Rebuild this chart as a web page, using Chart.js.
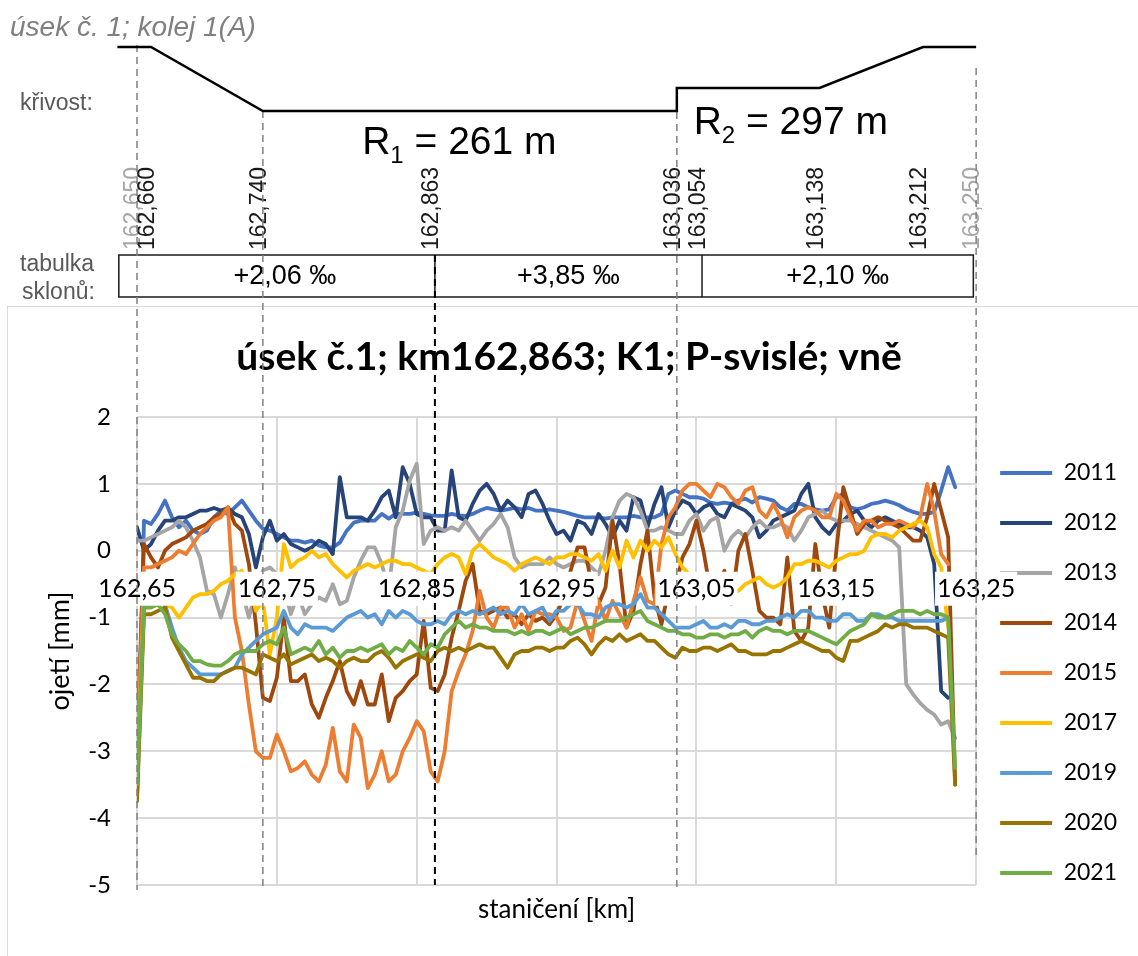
<!DOCTYPE html>
<html lang="cs">
<head>
<meta charset="utf-8">
<title>úsek č.1; km162,863; K1; P-svislé; vně</title>
<script src="https://cdn.jsdelivr.net/npm/chart.js@4.4.1/dist/chart.umd.min.js"></script>
<style>
  html, body { margin: 0; padding: 0; background: #fff; }
  #stage { position: relative; width: 1138px; height: 956px; overflow: hidden; background: #fff; }
  #frame { position: absolute; left: 7px; top: 306px; width: 1200px; height: 700px;
           border-left: 1.5px solid #d9d9d9; border-top: 1.5px solid #d9d9d9; }
  #stage canvas { position: absolute; left: 0; top: 0; }
</style>
</head>
<body>
<div id="stage">
  <div id="frame"></div>
  <canvas id="wearChart" width="1138" height="956"></canvas>
  <canvas id="profileChart" width="1138" height="956"></canvas>
</div>
<script>
(function() {
    'use strict';

    // measuring stations, one every 5 m from km 162,650
    const stations = Array.from({ length: 118 }, (_, i) => +(162.65 + i * 0.005).toFixed(3));

    const years = ['2011', '2012', '2013', '2014', '2015', '2017', '2019', '2020', '2021'];
    const yearColors = ['#4472C4', '#264478', '#A5A5A5', '#9E480E', '#ED7D31', '#FFC000', '#5B9BD5', '#997300', '#70AD47'];

    // ojetí [mm]
    const w2011 = [
        -3.7, 0.45, 0.4, 0.55, 0.75, 0.5, 0.35, 0.45, 0.3, 0.25,
        0.3, 0.5, 0.6, 0.55, 0.65, 0.75, 0.6, 0.45, 0.33, 0.3,
        0.25, 0.2, 0.15, 0.15, 0.12, 0.15, 0.08, 0.05, 0.05, 0.12,
        0.3, 0.42, 0.45, 0.45, 0.45, 0.55, 0.48, 0.55, 0.55, 0.55,
        0.57, 0.55, 0.53, 0.52, 0.52, 0.55, 0.53, 0.52, 0.55, 0.6,
        0.64, 0.62, 0.6, 0.62, 0.64, 0.62, 0.64, 0.6, 0.6, 0.62,
        0.6, 0.58, 0.55, 0.52, 0.5, 0.5, 0.5, 0.48, 0.5, 0.5,
        0.5, 0.52, 0.5, 0.5, 0.5, 0.55, 0.85, 0.9, 0.85, 0.8,
        0.8, 0.78, 0.72, 0.7, 0.72, 0.7, 0.75, 0.78, 0.72, 0.8,
        0.78, 0.75, 0.65, 0.6, 0.7, 0.7, 0.65, 0.62, 0.6, 0.62,
        0.8, 0.85, 0.65, 0.62, 0.65, 0.7, 0.72, 0.75, 0.72, 0.68,
        0.62, 0.58, 0.55, 0.55, 0.58, 0.9, 1.25, 0.95
    ];
    const w2012 = [
        0.35, 0.0, 0.1, 0.3, 0.45, 0.45, 0.5, 0.5, 0.55, 0.6,
        0.6, 0.64, 0.6, 0.64, 0.55, 0.5, 0.25, -0.25, 0.2, 0.45,
        0.15, 0.25, 0.1, 0.05, 0.0, 0.05, 0.15, 0.1, -0.05, 1.1,
        0.5, 0.5, 0.5, 0.45, 0.6, 0.8, 0.9, 0.5, 1.25, 1.0,
        0.55, 0.5, 0.5, 0.3, 0.3, 1.2, 0.5, 0.45, 0.7, 0.9,
        1.0, 0.85, 0.6, 0.75, 0.65, 0.5, 0.85, 0.9, 0.7, 0.45,
        0.25, 0.3, 0.15, 0.45, 0.4, 0.25, 0.55, 0.4, 0.2, 0.45,
        0.3, 0.8, 0.75, 0.35, 0.7, 0.95, 0.35, 0.6, 0.75, 0.7,
        0.55, 0.65, 0.7, 0.55, 0.5, 0.7, 0.65, 0.6, 0.5, 0.2,
        0.3, 0.45, 0.5, 0.55, 0.6, 0.85, 1.0, 0.5, 0.35, 0.25,
        0.4, 0.45, 0.55, 0.6, 0.45, 0.35, 0.45, 0.5, 0.45, 0.4,
        0.35, 0.35, 0.3, 0.2, -0.2, -2.1, -2.2, null
    ];
    const w2013 = [
        0.15, 0.15, 0.2, 0.25, 0.3, 0.35, 0.45, 0.35, 0.15, -0.1,
        -0.6, -0.65, -1.0, -0.65, -0.25, -0.6, -1.0, -0.6, -0.3, -0.25,
        -0.35, -0.55, -0.95, -0.65, -0.95, -0.8, -0.7, -0.75, -0.5, -0.8,
        -0.75, -0.4, -0.15, 0.05, 0.05, -0.2, -0.6, 0.35, 0.6, 1.05,
        1.3, 0.1, 0.3, 0.35, 0.3, 0.35, 0.3, 0.45, 0.3, 0.15,
        0.3, 0.4, 0.55, 0.35, -0.1, -0.25, -0.2, -0.2, -0.2, -0.1,
        -0.2, -0.25, -0.2, -0.15, -0.15, -0.25, -0.35, 0.0, 0.5, 0.75,
        0.85, 0.8, 0.6, 0.3, 0.3, 0.35, 0.3, 0.25, 0.25, 0.45,
        0.55, 0.3, 0.45, 0.5, 0.0, 0.2, 0.3, 0.2, 0.35, 0.45,
        0.35, 0.35, 0.4, 0.35, 0.15, 0.3, 0.5, 0.55, 0.6, 0.5,
        0.45, 0.45, 0.45, 0.4, 0.35, 0.3, 0.25, 0.2, 0.15, 0.05,
        -2.0, -2.15, -2.28, -2.38, -2.45, -2.6, -2.55, -2.8
    ];
    const w2014 = [
        -3.0, 0.1, -0.1, -0.25, 0.0, 0.1, 0.15, 0.2, 0.3, 0.35,
        0.4, 0.5, 0.55, 0.65, 0.4, 0.3, -0.2, -1.1, -2.2, -2.25,
        -1.9, -1.0, -1.95, -1.95, -1.85, -2.3, -2.5, -2.2, -1.95, -1.65,
        -2.1, -2.3, -1.95, -2.3, -2.3, -1.85, -2.55, -2.2, -2.1, -1.95,
        -1.85, -1.05, -2.05, -2.1, -1.85, -1.3, -0.9, -0.45, -0.2, -0.9,
        -0.95, -0.9, -0.85, -1.0, -0.95, -1.1, -0.95, -1.05, -1.0, -1.1,
        -0.95, -0.7, -0.3, 0.05, 0.05, -0.5, -0.8, -0.55, 0.45, -0.2,
        -1.15, -0.9, -0.2, 0.3, -0.7, -1.1, -0.6, -0.55, -0.1, 0.1,
        0.45, 0.0, -0.6, -0.5, -0.3, -0.8, 0.0, 0.25, -0.3, -0.9,
        -1.0, -1.0, -1.1, -0.1, -1.2, -1.35, -1.15, 0.1, -0.65, -1.15,
        0.0, 0.95, 0.6, 0.25, 0.4, 0.45, 0.5, 0.45, 0.4, 0.35,
        0.25, 0.15, 0.15, 0.5, 1.0, 0.6, 0.2, -3.5
    ];
    const w2015 = [
        -3.1, -0.25, -0.25, -0.2, -0.15, -0.1, 0.0, -0.05, 0.1, 0.25,
        0.35, 0.45, 0.5, 0.65, -1.0, -1.5, -2.3, -3.0, -3.1, -3.1,
        -2.75, -3.0, -3.3, -3.25, -3.15, -3.35, -3.45, -3.2, -2.65, -3.3,
        -3.45, -2.6, -2.8, -3.55, -3.35, -3.0, -3.45, -3.35, -3.0, -2.8,
        -2.55, -2.7, -3.3, -3.45, -3.0, -2.1, -1.8, -1.55, -1.2, -0.6,
        -1.0, -1.15, -0.85, -0.85, -1.15, -0.95, -1.2, -0.9, -0.95, -0.95,
        -1.0, -1.2, -1.15, -0.75, -1.05, -1.35, -0.75, -1.05, -0.75, -0.95,
        -1.15, -0.75, -0.4, -0.75, -0.8, 0.1, 0.5, 0.65, 0.9, 1.0,
        1.0, 0.9, 0.8, 1.0, 0.95, 0.8, 0.7, 0.9, 0.95, 0.6,
        0.5, 0.7, 0.5, 0.2, 0.5, 0.6, 0.65, 0.6, 0.5, 0.5,
        0.85, 0.75, 0.5, 0.3, 0.45, 0.45, 0.35, 0.4, 0.4, 0.45,
        0.4, 0.35, 0.5, 1.0, 0.6, -0.05, -0.2, null
    ];
    const w2017 = [
        -3.4, -0.7, -0.7, -0.75, -0.8, -0.85, -1.0, -0.85, -0.7, -0.65,
        -0.65, -0.6, -0.5, -0.45, -0.35, -0.3, -0.5, -0.9, -0.75, -1.55,
        -1.0, 0.1, -0.25, -0.15, -0.1, 0.0, -0.1, -0.05, -0.2, -0.3,
        -0.4, -0.3, -0.25, -0.2, -0.25, -0.2, -0.15, -0.15, -0.2, -0.2,
        -0.25, -0.3, -0.35, -0.2, -0.1, -0.05, -0.1, -0.35, 0.0, 0.1,
        0.0, -0.1, -0.15, -0.2, -0.3, -0.2, -0.15, -0.1, -0.15, -0.2,
        -0.1, -0.1, -0.05, -0.05, -0.1, -0.15, -0.05, -0.3, 0.0, -0.25,
        0.15, -0.1, 0.15, 0.0, 0.15, 0.05, 0.2, -0.05, -0.25, -0.35,
        -0.45, -0.5, -0.55, -0.6, -0.55, -0.6, -0.6, -0.5, -0.45, -0.4,
        -0.5, -0.55, -0.5, -0.4, -0.2, -0.2, -0.15, -0.15, -0.2, -0.25,
        -0.15, -0.1, -0.05, -0.05, 0.0, 0.2, 0.25, 0.25, 0.2, 0.3,
        0.35, 0.4, 0.45, 0.35, -0.05, -0.25, -1.15, null
    ];
    const w2019 = [
        -3.7, -0.8, -0.8, -0.75, -0.8, -1.15, -1.45, -1.65, -1.75, -1.85,
        -1.85, -1.85, -1.85, -1.8, -1.75, -1.55, -1.45, -1.35, -1.25, -1.2,
        -1.15, -0.9, -1.15, -1.25, -1.1, -1.15, -1.15, -1.15, -1.2, -1.1,
        -1.0, -0.95, -0.9, -1.0, -0.95, -1.1, -0.9, -1.0, -0.9, -0.95,
        -1.05, -1.1, -1.1, -1.05, -1.1, -0.95, -0.9, -0.95, -0.9, -0.95,
        -0.9, -0.85, -0.95, -0.9, -0.95, -0.8, -0.95, -0.9, -0.85, -1.05,
        -0.9, -0.9, -0.8, -0.8, -0.95, -0.95, -1.0, -0.85, -0.8, -0.8,
        -0.85, -0.8, -0.65, -0.85, -0.85, -0.95, -1.05, -1.15, -1.15, -1.15,
        -1.1, -1.05, -1.15, -1.15, -1.1, -1.15, -1.05, -1.05, -1.1, -1.1,
        -1.05, -1.05, -1.0, -0.95, -1.0, -0.9, -0.9, -1.0, -1.0, -1.05,
        -1.05, -0.95, -0.95, -1.05, -1.05, -0.95, -0.95, -1.0, -1.0, -1.05,
        -1.05, -1.05, -1.05, -1.05, -1.05, -1.05, -1.0, null
    ];
    const w2020 = [
        -3.75, -0.95, -0.95, -0.9, -0.85, -1.3, -1.5, -1.7, -1.9, -1.9,
        -1.95, -1.95, -1.85, -1.8, -1.75, -1.75, -1.8, -1.85, -1.55, -1.6,
        -1.65, -1.55, -1.7, -1.65, -1.6, -1.55, -1.65, -1.6, -1.65, -1.75,
        -1.65, -1.6, -1.65, -1.65, -1.55, -1.5, -1.6, -1.75, -1.65, -1.6,
        -1.55, -1.6, -1.65, -1.5, -1.45, -1.5, -1.45, -1.5, -1.45, -1.4,
        -1.45, -1.45, -1.6, -1.75, -1.55, -1.5, -1.5, -1.45, -1.45, -1.5,
        -1.45, -1.45, -1.35, -1.3, -1.4, -1.55, -1.4, -1.3, -1.35, -1.25,
        -1.35, -1.3, -1.25, -1.35, -1.35, -1.45, -1.55, -1.6, -1.45, -1.5,
        -1.5, -1.45, -1.45, -1.5, -1.45, -1.4, -1.5, -1.5, -1.55, -1.55,
        -1.55, -1.5, -1.5, -1.45, -1.4, -1.35, -1.4, -1.45, -1.5, -1.5,
        -1.6, -1.65, -1.35, -1.35, -1.3, -1.25, -1.2, -1.1, -1.15, -1.1,
        -1.1, -1.15, -1.15, -1.15, -1.2, -1.25, -1.3, -3.5
    ];
    const w2021 = [
        -3.5, -0.85, -0.85, -0.8, -0.95, -1.25, -1.4, -1.5, -1.65, -1.65,
        -1.7, -1.72, -1.72, -1.65, -1.55, -1.5, -1.5, -1.5, -1.4, -1.35,
        -1.4, -1.15, -1.55, -1.5, -1.45, -1.5, -1.35, -1.55, -1.45, -1.6,
        -1.5, -1.5, -1.45, -1.5, -1.45, -1.4, -1.55, -1.45, -1.5, -1.35,
        -1.45, -1.55, -1.4, -1.45, -1.25, -1.15, -1.05, -1.15, -1.1, -1.15,
        -1.15, -1.2, -1.2, -1.2, -1.25, -1.2, -1.25, -1.2, -1.2, -1.25,
        -1.2, -1.15, -1.25, -1.2, -1.15, -1.15, -1.1, -1.05, -1.05, -1.05,
        -1.0, -0.95, -0.9, -1.05, -1.1, -1.15, -1.2, -1.2, -1.25, -1.25,
        -1.3, -1.3, -1.25, -1.25, -1.3, -1.25, -1.25, -1.2, -1.3, -1.2,
        -1.15, -1.2, -1.2, -1.25, -1.2, -1.2, -1.2, -1.25, -1.3, -1.35,
        -1.4, -1.3, -1.2, -1.15, -1.1, -0.95, -1.0, -1.0, -0.95, -0.9,
        -0.9, -0.9, -0.95, -0.9, -0.95, -0.95, -1.0, -3.25
    ];
    const wear = [w2011, w2012, w2013, w2014, w2015, w2017, w2019, w2020, w2021];

    const xTicks = [162.65, 162.75, 162.85, 162.95, 163.05, 163.15, 163.25];
    const KM_MIN = 162.65, KM_MAX = 163.25;

    // track profile above the chart
    const stationKm = [162.650, 162.660, 162.740, 162.863, 163.036, 163.054, 163.138, 163.212, 163.250];
    const stationFaded = [true, false, false, false, false, false, false, false, true];
    const curveKm = [162.636, 162.660, 162.740, 163.036, 163.036, 163.138, 163.212, 163.250];
    const curveLevel = [0, 0, 1, 1, 0.64, 0.64, 0, 0];   // 0 = přímá, 1 = R1 (schematic)
    const radiusIndex = ['1', '2'];
    const radiusText = ['261 m', '297 m'];
    const slopeKm = [162.637, 162.863, 163.054, 163.248];
    const slopeText = ['+2,06 \u2030', '+3,85 \u2030', '+2,10 \u2030'];
    const guideKm = [162.650, 162.740, 162.863, 163.036, 163.250];

    const CALIBRI = 'Lato, "Open Sans", sans-serif';
    const ARIAL = '"Liberation Sans", Arial, sans-serif';
    const W = 1138, H = 956;
    const LEGEND_NUDGE = { x: -3, y: 38 };

    const fmtKm = v => v.toFixed(2).replace('.', ',');

    const legendNudge = {
        id: 'legendNudge',
        afterLayout(chart) {
            const lg = chart.legend;
            lg.left += LEGEND_NUDGE.x;
            lg.right += LEGEND_NUDGE.x;
            lg.top += LEGEND_NUDGE.y;
            lg.bottom += LEGEND_NUDGE.y;
        }
    };

    const datasets = years.map((year, i) => ({
        label: year,
        data: stations.map((km, j) => ({ x: km, y: wear[i][j] })),
        xAxisID: 'x',
        yAxisID: 'y',
        borderColor: yearColors[i],
        backgroundColor: yearColors[i],
        borderWidth: 3.8,
        pointRadius: 0,
        borderJoinStyle: 'round',
        borderCapStyle: 'round',
        order: years.length - i
    }));

    const wearChart = new Chart(document.getElementById('wearChart'), {
        type: 'line',
        data: { datasets },
        options: {
            responsive: false,
            animation: false,
            events: [],
            layout: { padding: { top: 314, left: 8, right: 8, bottom: 0 } },
            plugins: {
                title: {
                    display: true,
                    text: 'úsek č.1; km162,863; K1; P-svislé; vně',
                    color: '#000',
                    font: { family: CALIBRI, size: 39, weight: 'bold' },
                    padding: { top: 20, bottom: 36.2 }
                },
                legend: {
                    position: 'right',
                    reverse: true,
                    labels: {
                        color: '#000',
                        font: { family: CALIBRI, size: 23 },
                        usePointStyle: true,
                        pointStyle: 'line',
                        pointStyleWidth: 52,
                        padding: 27
                    }
                },
                tooltip: { enabled: false }
            },
            scales: {
                x: {
                    type: 'linear',
                    position: { y: 0 },
                    min: KM_MIN,
                    max: KM_MAX,
                    afterBuildTicks: scale => { scale.ticks = xTicks.map(v => ({ value: v })); },
                    grid: { color: '#d9d9d9', lineWidth: 2, drawTicks: false },
                    border: { display: false },
                    ticks: {
                        color: '#000',
                        font: { family: CALIBRI, size: 25 },
                        padding: 23,
                        autoSkip: false,
                        maxRotation: 0,
                        callback: v => fmtKm(v),
                        showLabelBackdrop: true,
                        backdropColor: '#fff',
                        backdropPadding: { x: 2, y: 2 },
                        z: 1
                    }
                },
                xTitle: {
                    type: 'linear',
                    axis: 'x',
                    position: 'bottom',
                    min: KM_MIN,
                    max: KM_MAX,
                    grid: { display: false, drawTicks: false },
                    border: { display: false },
                    ticks: { display: false },
                    title: {
                        display: true,
                        text: 'staničení [km]',
                        color: '#000',
                        font: { family: CALIBRI, size: 26 },
                        padding: { top: 0, bottom: 31 }
                    },
                    afterFit: scale => { scale.height = 71; }
                },
                y: {
                    min: -5,
                    max: 2,
                    grid: { color: '#d9d9d9', lineWidth: 2, drawTicks: false },
                    border: { display: false },
                    ticks: { stepSize: 1, color: '#000', font: { family: CALIBRI, size: 24 }, padding: 26 },
                    title: {
                        display: true,
                        text: 'ojetí [mm]',
                        color: '#000',
                        font: { family: CALIBRI, size: 27 },
                        padding: { top: 36, bottom: 0 }
                    },
                    afterFit: scale => { scale.width = 129; }
                }
            }
        },
        plugins: [legendNudge]
    });

    // ---- profile overlay (curvature, stations, gradients) ----
    const area = wearChart.chartArea;

    const guideStyle = [
        { top: 45, bottom: 890, color: '#808080', width: 1.5 },
        { top: 111, bottom: 890, color: '#808080', width: 1.5 },
        { top: 255, bottom: 885, color: '#000000', width: 2 },
        { top: 88, bottom: 890, color: '#808080', width: 1.5 },
        { top: 68, bottom: 860, color: '#808080', width: 1.5 }
    ];
    const CURVE_ROW = 47, CURVE_DEPTH = 64;

    const profileText = {
        id: 'profileText',
        beforeDatasetsDraw(chart) {
            const { ctx } = chart;
            const px = km => chart.scales.x.getPixelForValue(km);
            ctx.save();
            ctx.textBaseline = 'middle';
            ctx.textAlign = 'left';

            ctx.fillStyle = '#808080';
            ctx.font = 'italic 28px ' + ARIAL;
            ctx.fillText('úsek č. 1; kolej 1(A)', 10, 28);

            ctx.fillStyle = '#595959';
            ctx.font = '23px ' + ARIAL;
            ctx.fillText('křivost:', 20, 104);
            ctx.fillText('tabulka', 20, 265);
            ctx.fillText('sklonů:', 22, 293);

            ctx.font = '23px ' + ARIAL;
            stationKm.forEach((km, i) => {
                ctx.save();
                ctx.translate(px(km) - 3, 250);
                ctx.rotate(-Math.PI / 2);
                ctx.fillStyle = stationFaded[i] ? '#a6a6a6' : '#1a1a1a';
                ctx.fillText(km.toFixed(3).replace('.', ','), 0, 0);
                ctx.restore();
            });

            // radius labels
            const radiusAt = [{ km: 162.811, base: 154 }, { km: 163.048, base: 134 }];
            ctx.textBaseline = 'alphabetic';
            ctx.fillStyle = '#000';
            radiusAt.forEach((r, i) => {
                let x0 = px(r.km);
                ctx.font = '39px ' + ARIAL;
                ctx.fillText('R', x0, r.base);
                x0 += ctx.measureText('R').width;
                ctx.font = '24px ' + ARIAL;
                ctx.fillText(radiusIndex[i], x0, r.base + 9);
                x0 += ctx.measureText(radiusIndex[i]).width;
                ctx.font = '39px ' + ARIAL;
                ctx.fillText(' = ' + radiusText[i], x0, r.base);
            });

            // gradient table
            const top = 255, bottom = 297;
            const left = px(slopeKm[0]), right = px(slopeKm[slopeKm.length - 1]);
            ctx.strokeStyle = '#1a1a1a';
            ctx.lineWidth = 1.5;
            ctx.strokeRect(left, top, right - left, bottom - top);
            ctx.beginPath();
            for (let i = 1; i < slopeKm.length - 1; i++) {
                ctx.moveTo(px(slopeKm[i]), top);
                ctx.lineTo(px(slopeKm[i]), bottom);
            }
            ctx.stroke();
            ctx.font = '27px ' + ARIAL;
            ctx.textAlign = 'center';
            ctx.textBaseline = 'middle';
            slopeText.forEach((t, i) => {
                ctx.fillText(t, (px(slopeKm[i]) + px(slopeKm[i + 1])) / 2 + (i === 0 ? 8 : 0), (top + bottom) / 2 + 1);
            });
            ctx.restore();
        }
    };

    const profileSets = [{
        data: curveKm.map((km, i) => ({ x: km, y: curveLevel[i] })),
        yAxisID: 'level',
        borderColor: '#000',
        borderWidth: 2.5,
        pointRadius: 0,
        clip: false
    }].concat(guideKm.map((km, i) => ({
        data: [{ x: km, y: guideStyle[i].top }, { x: km, y: guideStyle[i].bottom }],
        yAxisID: 'row',
        borderColor: guideStyle[i].color,
        borderWidth: guideStyle[i].width,
        borderDash: [7, 5],
        pointRadius: 0,
        clip: false
    })));

    new Chart(document.getElementById('profileChart'), {
        type: 'line',
        data: { datasets: profileSets },
        options: {
            responsive: false,
            animation: false,
            events: [],
            layout: { padding: { left: area.left, right: W - area.right, top: 0, bottom: 0 } },
            plugins: { legend: { display: false }, title: { display: false }, tooltip: { enabled: false } },
            scales: {
                x: { type: 'linear', display: false, min: KM_MIN, max: KM_MAX },
                row: { axis: 'y', type: 'linear', display: false, reverse: true, min: 0, max: H },
                level: {
                    axis: 'y', type: 'linear', display: false, reverse: true,
                    min: -CURVE_ROW / CURVE_DEPTH, max: (H - CURVE_ROW) / CURVE_DEPTH
                }
            }
        },
        plugins: [profileText]
    });
})();
</script>
</body>
</html>
